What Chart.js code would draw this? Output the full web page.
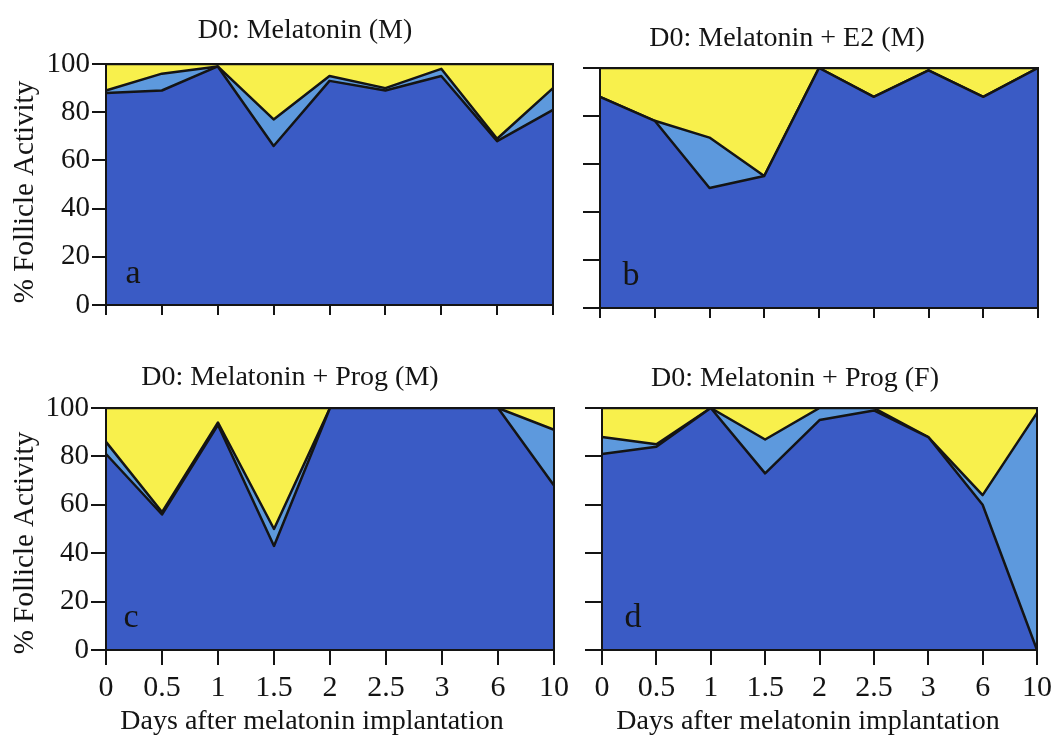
<!DOCTYPE html>
<html><head><meta charset="utf-8">
<script src="https://cdn.jsdelivr.net/npm/chart.js@4/dist/chart.umd.min.js"></script>
<style>
html,body{margin:0;padding:0;background:#fff;}
#wrap{position:relative;width:1057px;height:735px;overflow:hidden;background:#fff;}
canvas{position:absolute;left:0;top:0;}
</style></head><body><div id="wrap">
<canvas id="pa" width="1057" height="735"></canvas>
<canvas id="pb" width="1057" height="735"></canvas>
<canvas id="pc" width="1057" height="735"></canvas>
<canvas id="pd" width="1057" height="735"></canvas>
</div>
<script>
// ---- data ----
const days = ['0', '0.5', '1', '1.5', '2', '2.5', '3', '6', '10'];
const yTickValues = [0, 20, 40, 60, 80, 100];
const fullScale = [100, 100, 100, 100, 100, 100, 100, 100, 100];

// panel a: D0: Melatonin (M)  (upper edge of each band, %)
const darkA  = [88, 89, 99, 66, 93, 89, 95, 68, 81];
const lightA = [89, 96, 99, 77, 95, 90, 98, 69, 90];
// panel b: D0: Melatonin + E2 (M)
const darkB  = [88, 78, 50, 55, 100, 88, 99, 88, 100];
const lightB = [88, 78, 71, 55, 100, 88, 99, 88, 100];
// panel c: D0: Melatonin + Prog (M)
const darkC  = [81, 56, 93, 43, 100, 100, 100, 100, 68];
const lightC = [86, 57, 94, 50, 100, 100, 100, 100, 91];
// panel d: D0: Melatonin + Prog (F)
const darkD  = [81, 84, 100, 73, 95, 99, 88, 60, 0];
const lightD = [88, 85, 100, 87, 100, 100, 88, 64, 98];

const titles = ['D0: Melatonin (M)', 'D0: Melatonin + E2 (M)', 'D0: Melatonin + Prog (M)', 'D0: Melatonin + Prog (F)'];
const letters = ['a', 'b', 'c', 'd'];
const yTitle = '% Follicle Activity';
const xTitle = 'Days after melatonin implantation';

// ---- style ----
const DARK = '#3a5bc5', LIGHT = '#5d99dd', YELLOW = '#f8f04c', INK = '#141414';
const SERIF = '"Liberation Serif", "Times New Roman", serif';

const textPlugin = {
  id: 'panelText',
  afterDraw(chart, args, opts) {
    const ctx = chart.ctx;
    ctx.save();
    ctx.fillStyle = INK;
    ctx.textBaseline = 'alphabetic';
    for (const t of opts.items || []) {
      ctx.save();
      ctx.font = t.size + 'px ' + SERIF;
      ctx.textAlign = t.align || 'center';
      ctx.translate(t.x, t.y);
      if (t.rot) ctx.rotate(t.rot);
      ctx.fillText(t.text, 0, 0);
      ctx.restore();
    }
    ctx.restore();
  }
};

const framePlugin = {
  id: 'frame',
  afterDatasetsDraw(chart) {
    const a = chart.chartArea, ctx = chart.ctx;
    ctx.save();
    ctx.strokeStyle = INK;
    ctx.lineWidth = 2;
    ctx.strokeRect(a.left, a.top, a.right - a.left, a.bottom - a.top);
    ctx.restore();
  }
};

function makePanel(id, cfg) {
  const YW = 60, XH = 60;
  const items = [{ text: cfg.title, x: cfg.titleX, y: cfg.titleY, size: 28 },
                 { text: cfg.letter, x: cfg.letterX, y: cfg.letterY, size: 34 }];
  if (cfg.yTitleY) items.push({ text: yTitle, x: 33, y: cfg.yTitleY, size: 29, rot: -Math.PI / 2 });
  if (cfg.xTitleX) items.push({ text: xTitle, x: cfg.xTitleX, y: 729, size: 28 });
  const lineOpts = { borderColor: INK, borderWidth: 2.5, pointRadius: 0, tension: 0, borderJoinStyle: 'round' };
  new Chart(document.getElementById(id), {
    type: 'line',
    data: {
      labels: days,
      datasets: [
        Object.assign({ label: 'Active', data: cfg.dark, backgroundColor: DARK, fill: 'origin' }, lineOpts),
        Object.assign({ label: 'Intermediate', data: cfg.light, backgroundColor: LIGHT, fill: '-1' }, lineOpts),
        Object.assign({ label: 'Inactive', data: fullScale, backgroundColor: YELLOW, fill: '-1' }, lineOpts)
      ]
    },
    options: {
      responsive: false,
      animation: false,
      devicePixelRatio: 1,
      events: [],
      layout: { padding: { left: cfg.l - YW, top: cfg.t, right: 1057 - cfg.r, bottom: 735 - cfg.b - XH } },
      plugins: { legend: { display: false }, tooltip: { enabled: false }, title: { display: false },
                 panelText: { items } },
      scales: {
        x: {
          type: 'category',
          offset: false,
          afterFit: s => { s.height = XH; },
          grid: { display: true, drawOnChartArea: false, drawTicks: true, tickLength: cfg.xTick, color: INK, lineWidth: 2, offset: false },
          border: { display: true, color: INK, width: 2 },
          ticks: { display: cfg.xLabels, autoSkip: false, maxRotation: 0, minRotation: 0, padding: 5, color: INK,
                   font: { family: SERIF, size: 30 } }
        },
        y: {
          min: 0, max: 100,
          afterFit: s => { s.width = YW; },
          afterBuildTicks: s => { s.ticks = yTickValues.map(v => ({ value: v })); },
          grid: { display: true, drawOnChartArea: false, drawTicks: true, tickLength: cfg.yTick, color: INK, lineWidth: 2 },
          border: { display: true, color: INK, width: 2 },
          ticks: { display: cfg.yLabels, padding: 2, color: INK, font: { family: SERIF, size: 29 } }
        }
      }
    },
    plugins: [framePlugin, textPlugin]
  });
}

makePanel('pa', { l: 106, t: 64, r: 553, b: 305, dark: darkA, light: lightA, yLabels: true, xLabels: false, yTick: 14, xTick: 10,
  title: titles[0], titleX: 305, titleY: 38, letter: letters[0], letterX: 133, letterY: 283, yTitleY: 192 });
makePanel('pb', { l: 600, t: 68, r: 1038, b: 308, dark: darkB, light: lightB, yLabels: false, xLabels: false, yTick: 17, xTick: 10,
  title: titles[1], titleX: 787, titleY: 46, letter: letters[1], letterX: 631, letterY: 285 });
makePanel('pc', { l: 106, t: 408, r: 554, b: 650, dark: darkC, light: lightC, yLabels: true, xLabels: true, yTick: 15, xTick: 15,
  title: titles[2], titleX: 290, titleY: 385, letter: letters[2], letterX: 131, letterY: 627, yTitleY: 543, xTitleX: 312 });
makePanel('pd', { l: 602, t: 408, r: 1040, b: 650, dark: darkD, light: lightD, yLabels: false, xLabels: true, yTick: 17, xTick: 15,
  title: titles[3], titleX: 795, titleY: 386, letter: letters[3], letterX: 633, letterY: 627, xTitleX: 808 });
</script>
</body></html>
